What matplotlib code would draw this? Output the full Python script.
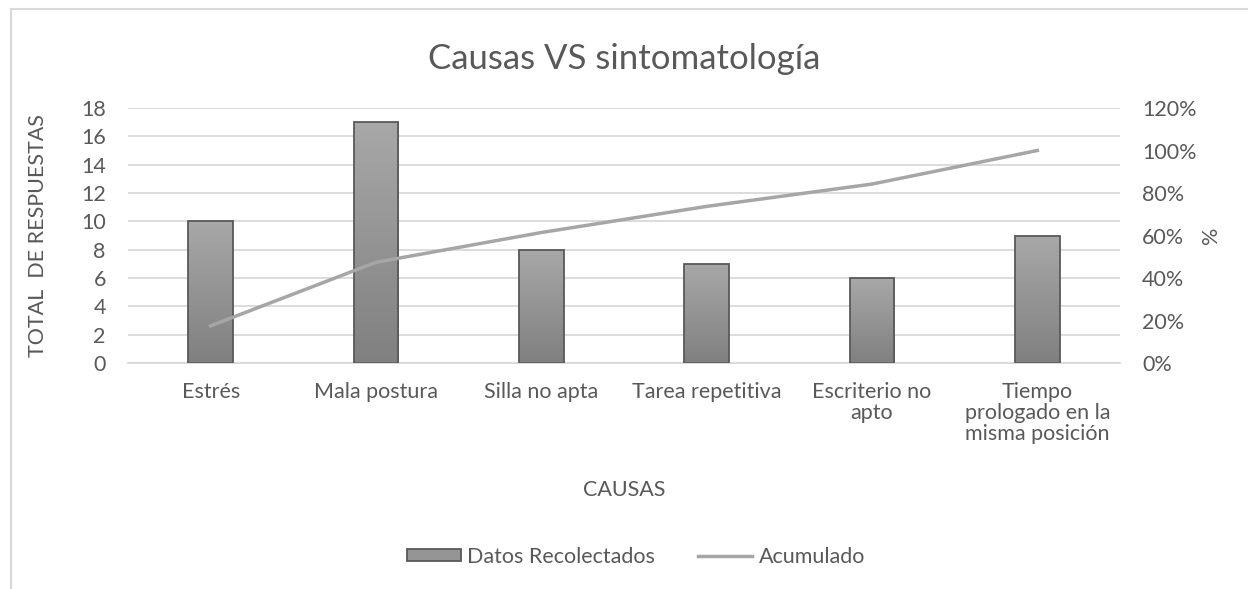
import numpy as np
import matplotlib
matplotlib.use("Agg")
from matplotlib import pyplot as plt
from matplotlib.patches import Rectangle
from matplotlib.lines import Line2D

plt.rcParams['font.family'] = ['Lato', 'DejaVu Sans']

causas = ["Estrés", "Mala postura", "Silla no apta", "Tarea repetitiva",
          "Escriterio no\napto", "Tiempo\nprologado en la\nmisma posición"]
datos = [10, 17, 8, 7, 6, 9]
acumulado = [0.175, 0.474, 0.614, 0.737, 0.842, 1.0]

txt = "#595959"
grid = "#d9d9d9"
fs = 15.5

fig = plt.figure(figsize=(12.48, 5.89), dpi=100)
# chart area border (top + left visible)
fig.add_artist(Line2D([11/1248, 1.0], [1-9/589, 1-9/589], color=grid, lw=1.5))
fig.add_artist(Line2D([11/1248, 11/1248], [0, 1-9/589], color=grid, lw=1.5))

ax = fig.add_axes([128/1248, 1-363/589, (1120-128)/1248, (363-108)/589])
x = np.arange(len(causas))
bars = ax.bar(x, datos, width=0.27, facecolor="none", edgecolor="#595959", lw=1.3, zorder=3)

# vertical gradient inside bars
grad = np.linspace(0, 1, 256).reshape(-1, 1)
cmap = matplotlib.colors.LinearSegmentedColormap.from_list("g", ["#808080", "#a8a8a8"])
for b in bars:
    im = ax.imshow(grad, cmap=cmap, aspect="auto", origin="lower",
                   extent=[b.get_x(), b.get_x() + b.get_width(), 0, b.get_height()], zorder=2)
    im.set_clip_path(b)

ax.set_xlim(-0.5, len(causas) - 0.5)
ax.set_ylim(0, 18)
ax.set_yticks(range(0, 19, 2))
ax.yaxis.grid(True, color=grid, lw=1.3)
ax.set_axisbelow(True)
for s in ["top", "right", "left"]:
    ax.spines[s].set_visible(False)
ax.spines["bottom"].set_color(grid)
ax.spines["bottom"].set_linewidth(1.3)
ax.tick_params(length=0, labelsize=fs, colors=txt)
ax.tick_params(axis="x", pad=14)
ax.tick_params(axis="y", pad=16)
ax.set_xticks(x)
ax.set_xticklabels(causas, linespacing=1.05)
ax.set_ylabel("TOTAL  DE RESPUESTAS", color=txt, fontsize=fs, labelpad=24)
ax.set_xlabel("CAUSAS", color=txt, fontsize=fs, labelpad=26)
ax.set_title("Causas VS sintomatología", color=txt, fontsize=25, pad=28)

ax2 = ax.twinx()
ax2.plot(x, acumulado, color="#a6a6a6", lw=2.5, zorder=4)
ax2.set_ylim(0, 1.2)
ax2.set_yticks(np.arange(0, 1.21, 0.2))
ax2.set_yticklabels([f"{int(round(v*100))}%" for v in np.arange(0, 1.21, 0.2)])
for s in ax2.spines.values():
    s.set_visible(False)
ax2.tick_params(length=0, labelsize=fs, colors=txt, pad=16)
ax2.set_ylabel("%", color=txt, fontsize=fs, labelpad=3)

handles = [Rectangle((0, 0), 1, 1, facecolor="#959595", edgecolor="#595959", lw=1.3),
           Line2D([0], [0], color="#a6a6a6", lw=2.5)]
fig.legend(handles, ["Datos Recolectados", "Acumulado"], loc="center",
           bbox_to_anchor=(636/1248, 1-557/589), ncol=2, frameon=False,
           fontsize=fs, labelcolor=txt, handlelength=2.5, handleheight=0.5,
           handletextpad=0.3, columnspacing=2.0)

fig.savefig("out.png", dpi=100)
